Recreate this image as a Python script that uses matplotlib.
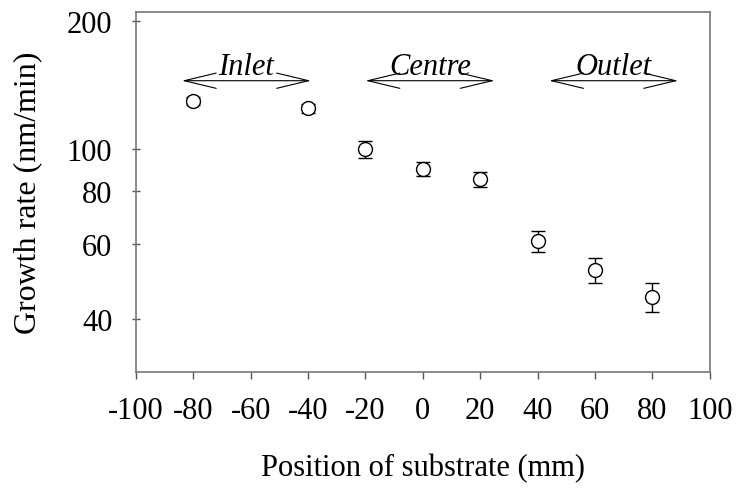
import numpy as np
import matplotlib
matplotlib.use('Agg')
import matplotlib.pyplot as plt
from matplotlib.ticker import FixedLocator, NullLocator, FixedFormatter

plt.rcParams['font.family'] = ['Liberation Serif', 'DejaVu Serif']

# posição do substrato (mm) e taxa de crescimento (nm/min)
posicao = [-80, -40, -20, 0, 20, 40, 60, 80]
taxa = [130, 125, 100, 90, 85, 61, 52, 45]
erro = [3, 3, 4.5, 3.5, 3.5, 3.5, 3.5, 3.5]

# regiões do reator
regioes = ['Inlet', 'Centre', 'Outlet']
regiao_ini = [-84, -20, 44]
regiao_fim = [-39, 25, 89]
regiao_y = 145

xticks = [-100, -80, -60, -40, -20, 0, 20, 40, 60, 80, 100]
yticks = [40, 60, 80, 100, 200]

fig = plt.figure(figsize=(7.37, 4.89), dpi=100)
ax = fig.add_axes([0.1845, 0.237, 0.7785, 0.736])

ax.errorbar(posicao, taxa, yerr=erro, fmt='o', mfc='white', mec='black',
            ecolor='black', ms=10, mew=1, elinewidth=1, capsize=5, capthick=1)

for nome, a, b in zip(regioes, regiao_ini, regiao_fim):
    ax.annotate('', xy=(a, regiao_y), xytext=(b, regiao_y),
                arrowprops=dict(arrowstyle='<->,head_length=2.3,head_width=0.55',
                                color='black', lw=0.8, shrinkA=0, shrinkB=0))
    ax.text((a + b) / 2, regiao_y * 1.035, nome, ha='center', va='baseline',
            fontsize=22, style='italic')

ax.set_yscale('log')
ax.set_ylim(30, 210)
ax.set_xlim(-100, 100)
ax.yaxis.set_major_locator(FixedLocator(yticks))
ax.yaxis.set_major_formatter(FixedFormatter([str(v) for v in yticks]))
ax.yaxis.set_minor_locator(NullLocator())
ax.set_xticks(xticks)
ax.set_xticklabels([str(v) for v in xticks])

for s in ax.spines.values():
    s.set_color('#777777')
    s.set_linewidth(1.2)

ax.tick_params(axis='y', direction='inout', length=6, width=1, color='#555555',
               labelsize=22, pad=14)
ax.tick_params(axis='x', direction='out', length=5, width=1, color='#555555',
               labelsize=22, pad=12)

ax.set_xlabel('Position of substrate (mm)', fontsize=22, labelpad=20)
ax.set_ylabel('Growth rate (nm/min)', fontsize=23, labelpad=18)

fig.savefig('out.png', dpi=100)
